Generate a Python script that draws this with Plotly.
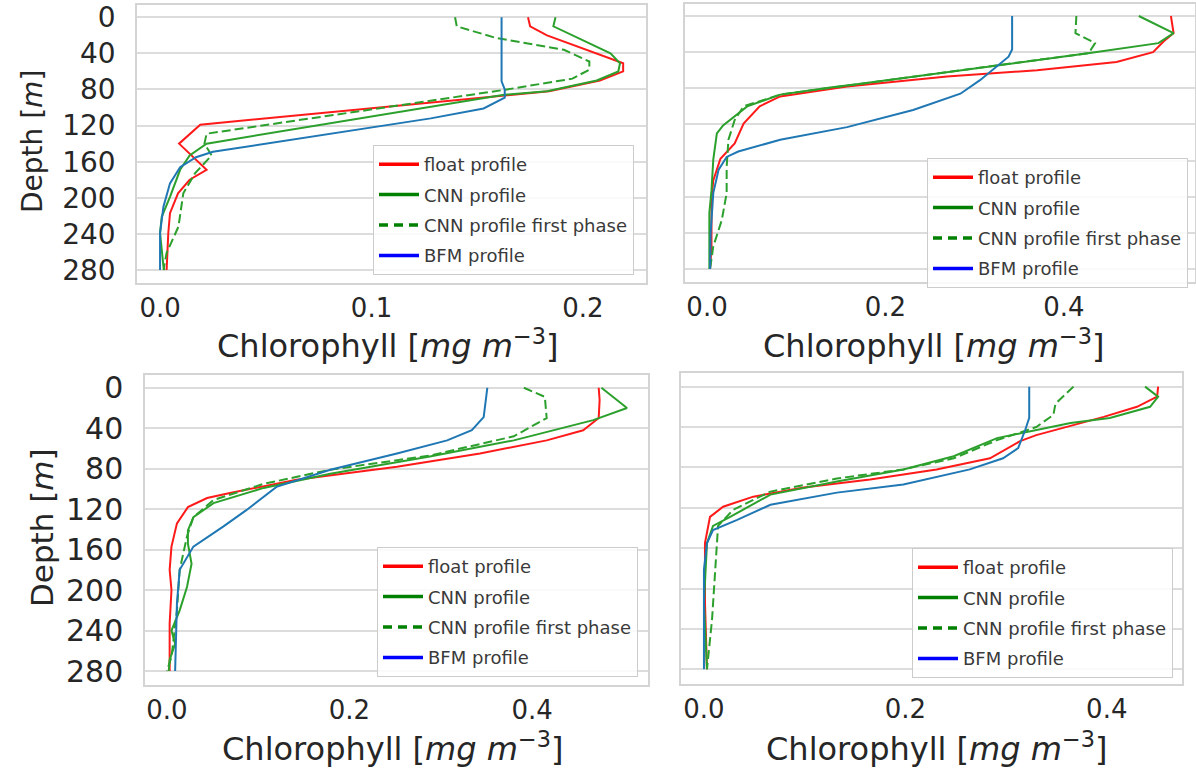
import plotly.graph_objects as go

# ---------------- data (depth [m], chlorophyll [mg m-3]) ----------------
# Top-left panel
tl_float_depth = [0, 10, 20, 51, 60, 70, 82, 87, 119, 140, 169, 180, 195, 217, 239, 280]
tl_float_chl = [0.174, 0.175, 0.183, 0.219, 0.219, 0.208, 0.184, 0.162, 0.019, 0.009, 0.022, 0.014, 0.0085, 0.0047, 0.0039, 0.0031]
tl_cnn_depth = [0, 10, 40, 51, 60, 70, 82, 86, 140, 153, 169, 199, 221, 239, 276, 280]
tl_cnn_chl = [0.187, 0.186, 0.213, 0.2175, 0.2167, 0.2065, 0.183, 0.162, 0.022, 0.014, 0.0095, 0.0047, 0.0008, 0.0, 0.0016, 0.002]
tl_first_depth = [0, 10, 23, 36, 49, 58, 68, 80, 129, 140, 153, 173, 195, 232, 261, 280]
tl_first_chl = [0.1395, 0.1403, 0.159, 0.191, 0.203, 0.203, 0.195, 0.164, 0.022, 0.021, 0.0244, 0.0165, 0.011, 0.0087, 0.0031, 0.0016]
tl_bfm_depth = [0, 71, 80, 89, 101, 112, 149, 155, 166, 184, 210, 239, 280]
tl_bfm_chl = [0.1615, 0.1615, 0.163, 0.163, 0.153, 0.128, 0.025, 0.017, 0.0095, 0.0047, 0.0016, 0.0, 0.0]

# Top-right panel
tr_float_depth = [0, 19, 28, 40, 51, 60, 67, 78, 89, 100, 119, 141, 158, 182, 203, 255, 280]
tr_float_chl = [0.520, 0.523, 0.512, 0.500, 0.459, 0.370, 0.269, 0.157, 0.082, 0.059, 0.041, 0.031, 0.015, 0.007, 0.005, 0.005, 0.0034]
tr_cnn_depth = [0, 19, 30, 41, 75, 79, 87, 100, 121, 130, 159, 193, 218, 280]
tr_cnn_chl = [0.484, 0.523, 0.506, 0.429, 0.172, 0.138, 0.082, 0.045, 0.018, 0.011, 0.007, 0.005, 0.0026, 0.0026]
tr_first_depth = [0, 19, 30, 41, 87, 100, 115, 137, 167, 196, 226, 255, 280]
tr_first_chl = [0.414, 0.413, 0.435, 0.428, 0.082, 0.041, 0.031, 0.024, 0.022, 0.022, 0.0165, 0.007, 0.0034]
tr_bfm_depth = [0, 37, 45, 56, 71, 86, 104, 123, 137, 150, 156, 170, 196, 241, 280]
tr_bfm_chl = [0.342, 0.342, 0.338, 0.325, 0.306, 0.284, 0.231, 0.157, 0.082, 0.035, 0.022, 0.013, 0.007, 0.004, 0.0034]

# Bottom-left panel
bl_float_depth = [0, 12, 30, 42, 52, 65, 78, 91, 104, 109, 118, 134, 157, 180, 200, 233, 280]
bl_float_chl = [0.473, 0.474, 0.473, 0.456, 0.416, 0.343, 0.252, 0.142, 0.069, 0.044, 0.023, 0.011, 0.005, 0.003, 0.005, 0.003, 0.003]
bl_cnn_depth = [0, 20, 32, 52, 68, 85, 99, 114, 128, 141, 154, 174, 197, 220, 240, 253, 269, 280]
bl_cnn_chl = [0.476, 0.504, 0.467, 0.380, 0.288, 0.179, 0.106, 0.051, 0.029, 0.023, 0.023, 0.027, 0.022, 0.014, 0.005, 0.009, 0.003, 0.002]
bl_first_depth = [0, 9, 30, 48, 67, 81, 95, 111, 128, 147, 180, 220, 266, 280]
bl_first_chl = [0.391, 0.414, 0.416, 0.380, 0.288, 0.179, 0.106, 0.051, 0.029, 0.022, 0.014, 0.011, 0.005, 0.0]
bl_bfm_depth = [0, 16, 29, 42, 52, 65, 81, 98, 121, 137, 157, 180, 213, 280]
bl_bfm_chl = [0.351, 0.349, 0.347, 0.334, 0.307, 0.252, 0.179, 0.120, 0.087, 0.062, 0.029, 0.014, 0.011, 0.009]

# Bottom-right panel
br_float_depth = [0, 10, 20, 30, 48, 54, 71, 82, 92, 100, 109, 119, 129, 155, 214, 280]
br_float_chl = [0.451, 0.450, 0.430, 0.397, 0.330, 0.314, 0.284, 0.231, 0.165, 0.099, 0.049, 0.019, 0.006, 0.001, 0.001, 0.003]
br_cnn_depth = [0, 10, 20, 31, 36, 45, 51, 69, 82, 94, 107, 129, 138, 155, 214, 280]
br_cnn_chl = [0.438, 0.451, 0.443, 0.403, 0.364, 0.320, 0.291, 0.248, 0.198, 0.132, 0.066, 0.026, 0.009, 0.003, 0.0, 0.003]
br_first_depth = [0, 17, 28, 40, 53, 71, 82, 91, 104, 122, 138, 181, 231, 280]
br_first_chl = [0.367, 0.349, 0.347, 0.330, 0.291, 0.248, 0.198, 0.132, 0.066, 0.029, 0.014, 0.011, 0.008, 0.003]
br_bfm_depth = [0, 31, 43, 61, 71, 82, 97, 105, 117, 132, 142, 155, 181, 280]
br_bfm_chl = [0.323, 0.323, 0.319, 0.312, 0.297, 0.264, 0.198, 0.132, 0.066, 0.033, 0.009, 0.003, 0.0, 0.0]

series_names = ["float profile", "CNN profile", "CNN profile first phase", "BFM profile"]
depth_ticks = [0, 40, 80, 120, 160, 200, 240, 280]
x_ticks_tl = [0.0, 0.1, 0.2]
x_ticks_other = [0.0, 0.2, 0.4]

W, H = 1196, 768


def px(x):
    return min(max(x / W, 0.0), 1.0)


def py(y):
    return min(max(1 - y / H, 0.0), 1.0)


panels = [
    dict(data=[(tl_float_depth, tl_float_chl), (tl_cnn_depth, tl_cnn_chl),
               (tl_first_depth, tl_first_chl), (tl_bfm_depth, tl_bfm_chl)],
         xdom=[px(137), px(646)], ydom=[py(283), py(5)],
         xrange=[-0.0109, 0.2298], yrange=[294.4, -13.6], xticks=x_ticks_tl,
         ytl=True, legxy=(373, 145)),
    dict(data=[(tr_float_depth, tr_float_chl), (tr_cnn_depth, tr_cnn_chl),
               (tr_first_depth, tr_first_chl), (tr_bfm_depth, tr_bfm_chl)],
         xdom=[px(685), px(1195)], ydom=[py(282), py(4)],
         xrange=[-0.0247, 0.547], yrange=[294.4, -13.3], xticks=x_ticks_other,
         ytl=False, legxy=(927, 158)),
    dict(data=[(bl_float_depth, bl_float_chl), (bl_cnn_depth, bl_cnn_chl),
               (bl_first_depth, bl_first_chl), (bl_bfm_depth, bl_bfm_chl)],
         xdom=[px(145), px(648)], ydom=[py(685), py(375)],
         xrange=[-0.024, 0.527], yrange=[293.8, -12.6], xticks=x_ticks_other,
         ytl=True, legxy=(377, 547)),
    dict(data=[(br_float_depth, br_float_chl), (br_cnn_depth, br_cnn_chl),
               (br_first_depth, br_first_chl), (br_bfm_depth, br_bfm_chl)],
         xdom=[px(681), px(1182)], ydom=[py(684), py(373)],
         xrange=[-0.0228, 0.4747], yrange=[294.6, -13.5], xticks=x_ticks_other,
         ytl=False, legxy=(912, 548)),
]

line_colors = ["#ff1a1a", "#2ca02c", "#2ca02c", "#1f77b4"]
legend_colors = ["#ff0000", "#008000", "#008000", "#0000ff"]
dashes = ["solid", "solid", "9px,4px", "solid"]

FONT = "DejaVu Sans"
fig = go.Figure()
layout = dict(
    width=W, height=H, margin=dict(l=0, r=0, t=0, b=0, autoexpand=False),
    paper_bgcolor="white", plot_bgcolor="white",
    font=dict(family=FONT, color="#262626"),
    annotations=[],
)

for i, p in enumerate(panels):
    n = "" if i == 0 else str(i + 1)
    xa, ya = "x" + n, "y" + n
    leg = "legend" + n
    for k, (d, c) in enumerate(p["data"]):
        fig.add_trace(go.Scatter(
            x=c, y=d, mode="lines", xaxis=xa, yaxis=ya, showlegend=False,
            line=dict(color=line_colors[k], width=2, dash=dashes[k]),
            hoverinfo="skip"))
    for k in range(4):
        fig.add_trace(go.Scatter(
            x=[None], y=[None], mode="lines", xaxis=xa, yaxis=ya,
            name=series_names[k], legend=leg, legendgroup=f"g{i}{k}",
            line=dict(color=legend_colors[k], width=3.5,
                      dash="9px,6px" if k == 2 else "solid")))
    layout["xaxis" + n] = dict(
        domain=p["xdom"], anchor=ya, range=p["xrange"], tickvals=p["xticks"],
        ticktext=[f"{v:.1f}" for v in p["xticks"]], automargin=False,
        showgrid=False, zeroline=False, showline=True, mirror=True,
        linecolor="#d4d4d4", linewidth=1.5, ticks="", ticklabelstandoff=1,
        ticklabeloverflow="allow",
        tickfont=dict(family=FONT, size=26, color="#262626"))
    layout["yaxis" + n] = dict(
        domain=p["ydom"], anchor=xa, range=p["yrange"], tickvals=depth_ticks,
        showticklabels=p["ytl"], showgrid=True, gridcolor="#dcdcdc", gridwidth=1.5,
        zeroline=False, showline=True, mirror=True, linecolor="#d4d4d4",
        linewidth=1.5, ticks="", ticklabelstandoff=14, automargin=False,
        ticklabeloverflow="allow",
        tickfont=dict(family=FONT, size=28 if i == 0 else 30, color="#262626"))
    lx, ly = p["legxy"]
    layout[leg] = dict(
        x=px(lx), y=py(ly), xanchor="left", yanchor="top",
        bgcolor="rgba(255,255,255,0.85)", bordercolor="#cccccc", borderwidth=1,
        font=dict(family=FONT, size=18, color="#3a3a3a"), itemwidth=40,
        tracegroupgap=4)

xt = "Chlorophyll [<i>mg m</i><sup>−3</sup>]"
for (cx, cy) in [(387, 344), (933, 344), (392, 747), (936, 747)]:
    layout["annotations"].append(dict(
        text=xt, x=px(cx), y=py(cy), xref="paper", yref="paper",
        showarrow=False, xanchor="center", yanchor="middle",
        font=dict(family=FONT, size=32, color="#262626")))
for (cx, cy, fs) in [(32, 142, 28), (42, 528, 31)]:
    layout["annotations"].append(dict(
        text="Depth [<i>m</i>]", x=px(cx), y=py(cy), xref="paper",
        yref="paper", showarrow=False, textangle=-90, xanchor="center",
        yanchor="middle", font=dict(family=FONT, size=fs, color="#262626")))

fig.update_layout(**layout)
fig.write_html(
    "out.html",
    config={"displayModeBar": False},
    post_script="document.body.style.margin='0';document.body.style.overflow='hidden';")
